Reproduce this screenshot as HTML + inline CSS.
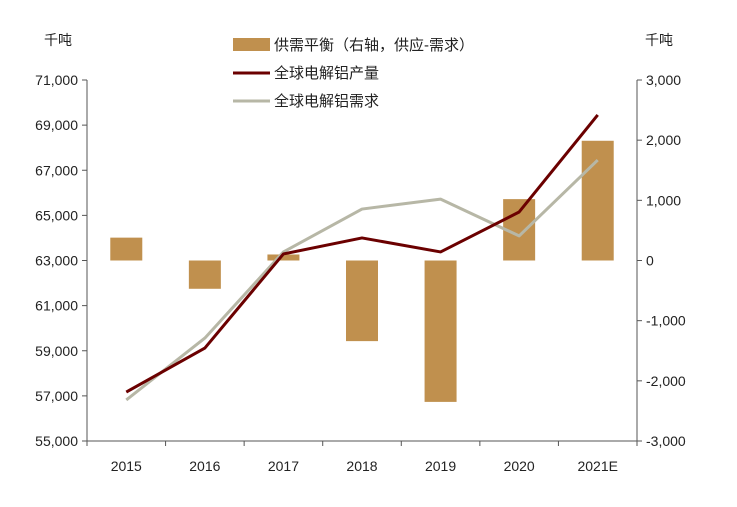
<!DOCTYPE html>
<html><head><meta charset="utf-8"><style>
body{margin:0;background:#fff;}
svg text{font-family:"Liberation Sans","Noto Sans CJK SC",sans-serif;fill:#222;}
</style></head><body>
<svg width="737" height="502" id="c">
<text x="44" y="45" font-size="14">千吨</text>
<text x="645" y="45" font-size="14">千吨</text>
<g id="legend">
<rect x="233" y="38" width="37" height="13" fill="#c0904e"/>
<text x="274" y="50" font-size="15">供需平衡（右轴，供应-需求）</text>
<line x1="233" y1="73" x2="270" y2="73" stroke="#6b0000" stroke-width="3"/>
<text x="274" y="78" font-size="15">全球电解铝产量</text>
<line x1="233" y1="101" x2="270" y2="101" stroke="#b7b7a6" stroke-width="3"/>
<text x="274" y="106" font-size="15">全球电解铝需求</text>
</g>
<g id="g"></g>
</svg>
<script>
const categories=["2015","2016","2017","2018","2019","2020","2021E"];
const balance=[380,-470,100,-1340,-2350,1020,1990];
const production=[57170,59120,63290,64000,63380,65150,69450];
const demand=[56820,59560,63380,65280,65720,64090,67450];
const leftTicks=[55000,57000,59000,61000,63000,65000,67000,69000,71000];
const rightTicks=[-3000,-2000,-1000,0,1000,2000,3000];
const NS="http://www.w3.org/2000/svg";
const g=document.getElementById('g');
const X0=87,X1=637,Y0=80,Y1=441;
const step=(X1-X0)/categories.length;
const xc=i=>X0+step*(i+0.5);
const yl=v=>Y1-(v-55000)/16000*(Y1-Y0);
const yr=v=>Y1-(v+3000)/6000*(Y1-Y0);
function mk(t,a){const e=document.createElementNS(NS,t);for(const k in a)e.setAttribute(k,a[k]);g.appendChild(e);return e;}
let e;
e=mk('line',{x1:X0,y1:Y1,x2:X1,y2:Y1,stroke:'#555','stroke-width':1});


e=mk('line',{x1:X0,y1:Y0,x2:X0,y2:Y1,stroke:'#555','stroke-width':1});


e=mk('line',{x1:X1,y1:Y0,x2:X1,y2:Y1,stroke:'#555','stroke-width':1});


leftTicks.forEach(v=>{
 e=mk('line',{x1:X0-5,y1:yl(v),x2:X0,y2:yl(v),stroke:'#555'});
 
 
 e=mk('text',{x:X0-9,y:yl(v)+5,'font-size':14,'text-anchor':'end'});
 e.textContent=v.toLocaleString('en-US');
 
 
});
rightTicks.forEach(v=>{
 e=mk('line',{x1:X1,y1:yr(v),x2:X1+5,y2:yr(v),stroke:'#555'});
 
 
 e=mk('text',{x:X1+9,y:yr(v)+5,'font-size':14});
 e.textContent=v.toLocaleString('en-US');
 
 
});
for(let i=0;i<=categories.length;i++){
 e=mk('line',{x1:X0+step*i,y1:Y1,x2:X0+step*i,y2:Y1+5,stroke:'#555'});
 
 
}
categories.forEach((c,i)=>{
 e=mk('text',{x:xc(i),y:Y1+30,'font-size':14,'text-anchor':'middle'});
 e.textContent=c;
 
 
});
balance.forEach((v,i)=>{
 const y0=yr(0),y=yr(v);
 e=mk('rect',{x:xc(i)-16,y:Math.min(y,y0),width:32,height:Math.abs(y-y0),fill:'#c0904e'});
 
 
});
function line(arr,col,name){
 e=mk('polyline',{points:arr.map((v,i)=>xc(i)+','+yl(v)).join(' '),fill:'none',stroke:col,'stroke-width':3,'stroke-linejoin':'round'});
 
 
}
line(demand,'#b7b7a6','line-demand');
line(production,'#6b0000','line-production');
</script>
</body></html>
